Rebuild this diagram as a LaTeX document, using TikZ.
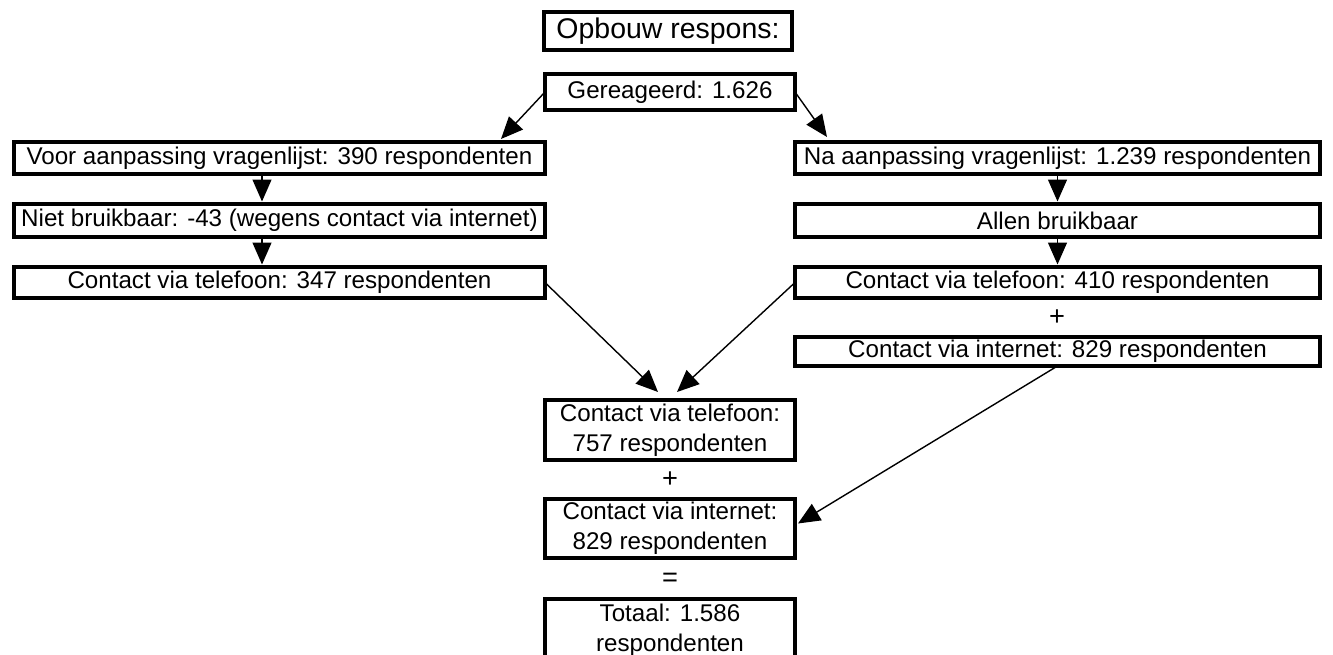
\documentclass[tikz,border=0pt]{standalone}
\usepackage{fontspec}
\setmainfont{Liberation Sans}
\usepackage{tikz}
\usetikzlibrary{arrows.meta,positioning}

\begin{document}
\begin{tikzpicture}[x=0.02cm,y=-0.02cm,
        resbox/.style={draw,line width=2.8pt,inner sep=0pt,outer sep=0pt,
            align=center,font=\fontsize{13.75}{17.2}\selectfont},
        sumtext/.style={inner sep=0pt,font=\fontsize{15.5}{17}\selectfont},
        flow/.style={line width=0.8pt,-{Triangle[length=0.44cm,width=0.38cm]}}]
    \useasboundingbox (0,0) rectangle (1333,655);
    % top
    \node[resbox,minimum width=248*0.02cm,minimum height=38*0.02cm,
        font=\fontsize{16.2}{19}\selectfont] (opbouw) at (668,31) {Opbouw respons:};
    \node[resbox,minimum width=250*0.02cm,minimum height=36*0.02cm] (gereageerd) at (670,92)
        {Gereageerd: 1.626};
    % left column
    \node[resbox,minimum width=531*0.02cm,minimum height=32*0.02cm] (voor) at (279.5,158)
        {Voor aanpassing vragenlijst: 390 respondenten};
    \node[resbox,minimum width=531*0.02cm,minimum height=33*0.02cm] (niet) at (279.5,220.5)
        {Niet bruikbaar: -43 (wegens contact via internet)};
    \node[resbox,minimum width=531*0.02cm,minimum height=31*0.02cm] (tel347) at (279.5,282.5)
        {Contact via telefoon: 347 respondenten};
    % right column
    \node[resbox,minimum width=525*0.02cm,minimum height=32*0.02cm] (na) at (1057.5,158)
        {Na aanpassing vragenlijst: 1.239 respondenten};
    \node[resbox,minimum width=525*0.02cm,minimum height=33*0.02cm] (allen) at (1057.5,220.5)
        {Allen bruikbaar};
    \node[resbox,minimum width=525*0.02cm,minimum height=31*0.02cm] (tel410) at (1057.5,282.5)
        {Contact via telefoon: 410 respondenten};
    \node[sumtext] (plusr) at (1057,318) {+};
    \node[resbox,minimum width=525*0.02cm,minimum height=29*0.02cm] (int829r) at (1057.5,351.5)
        {Contact via internet: 829 respondenten};
    % bottom
    \node[resbox,minimum width=250*0.02cm,minimum height=60*0.02cm] (tel757) at (670,430)
        {Contact via telefoon:\\757 respondenten};
    \node[sumtext] (plusc) at (670,480) {+};
    \node[resbox,minimum width=250*0.02cm,minimum height=59*0.02cm] (int829c) at (670,528.5)
        {Contact via internet:\\829 respondenten};
    \node[sumtext] (gelijk) at (670,580) {=};
    \node[resbox,minimum width=250*0.02cm,minimum height=62*0.02cm] (totaal) at (670,630)
        {Totaal: 1.586\\respondenten};

    \draw[flow] (gereageerd.west) -- ([xshift=-0.88cm,yshift=0.06cm]voor.north east);
    \draw[flow] (gereageerd.east) -- ([xshift=0.64cm,yshift=0.1cm]na.north west);
    \draw[flow] ([xshift=-0.35cm]voor.south) -- ([xshift=-0.35cm,yshift=0.05cm]niet.north);
    \draw[flow] ([xshift=-0.35cm]niet.south) -- ([xshift=-0.35cm,yshift=0.05cm]tel347.north);
    \draw[flow] (na.south) -- ([yshift=0.05cm]allen.north);
    \draw[flow] (allen.south) -- ([yshift=0.05cm]tel410.north);
    \draw[flow] (tel347.east) -- ([xshift=-0.24cm,yshift=0.16cm]tel757.north);
    \draw[flow] (tel410.west) -- ([xshift=0.14cm,yshift=0.16cm]tel757.north);
    \draw[flow] (int829r.south) -- ([xshift=0.06cm,yshift=0.1cm]int829c.east);
\end{tikzpicture}
\end{document}
